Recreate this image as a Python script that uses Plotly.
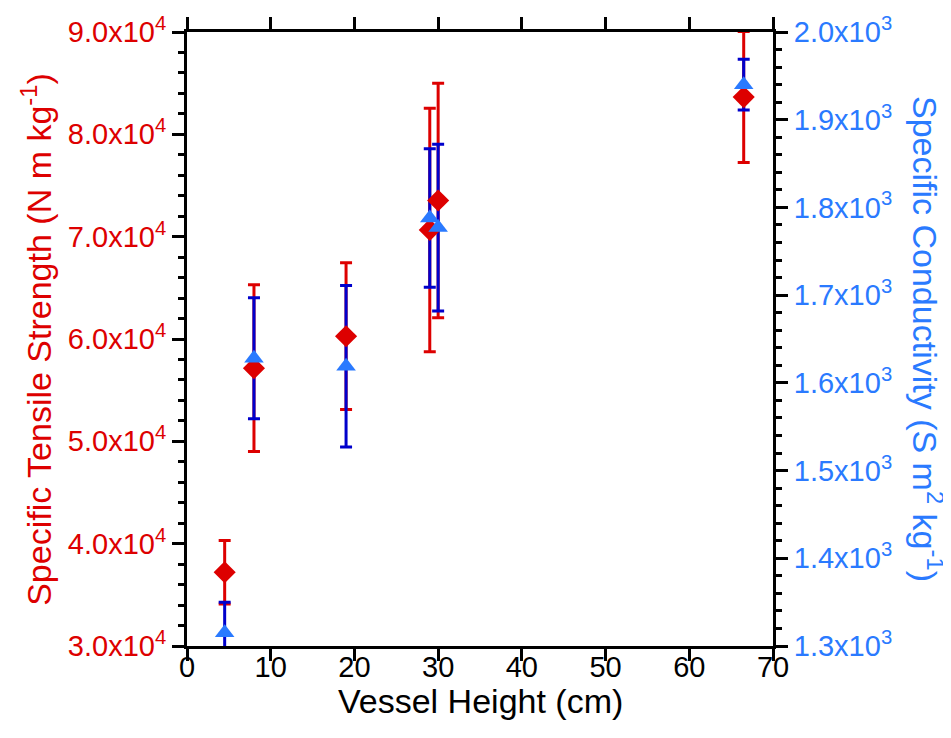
import plotly.graph_objects as go

# Data
vessel_height = [4.5, 8, 19, 29, 30, 66.5]
tensile_strength = [37200, 57150, 60270, 70660, 73530, 83640]
tensile_err = [3100, 8140, 7170, 11900, 11450, 6400]
conductivity = [1315, 1628, 1619, 1788, 1777, 1940]
conductivity_err = [35, 69, 92, 79, 95, 29]

x_ticks = [0, 10, 20, 30, 40, 50, 60, 70]
left_ticks = [30000, 40000, 50000, 60000, 70000, 80000, 90000]
left_ticktext = ["3.0x10<sup>4</sup>", "4.0x10<sup>4</sup>", "5.0x10<sup>4</sup>", "6.0x10<sup>4</sup>",
                 "7.0x10<sup>4</sup>", "8.0x10<sup>4</sup>", "9.0x10<sup>4</sup>"]
right_ticks = [1300, 1400, 1500, 1600, 1700, 1800, 1900, 2000]
right_ticktext = ["1.3x10<sup>3</sup>", "1.4x10<sup>3</sup>", "1.5x10<sup>3</sup>", "1.6x10<sup>3</sup>",
                  "1.7x10<sup>3</sup>", "1.8x10<sup>3</sup>", "1.9x10<sup>3</sup>", "2.0x10<sup>3</sup>"]
left_range = [30000, 90000]
right_range = [1300, 2000]

x_title = "Vessel Height (cm)"
left_title = "Specific Tensile Strength (N m kg<sup>-1</sup>)"
right_title = "Specific Conductivity (S m<sup>2</sup> kg<sup>-1</sup>)"

RED = "#DD0000"
DARKBLUE = "#0000CC"
LIGHTBLUE = "#2A7AFF"
FONT = "Liberation Sans, Arial, sans-serif"
TICKSIZE = 29
TITLESIZE = 34

fig = go.Figure()
# error bars first (drawn underneath), markers on later overlay layers
fig.add_trace(go.Scatter(
    x=vessel_height, y=tensile_strength, mode="markers",
    marker=dict(size=1, color="rgba(0,0,0,0)"),
    error_y=dict(type="data", array=tensile_err, visible=True, color=RED, thickness=3, width=6),
    cliponaxis=False, showlegend=False, hoverinfo="skip", yaxis="y"))
fig.add_trace(go.Scatter(
    x=vessel_height, y=conductivity, mode="markers",
    marker=dict(size=1, color="rgba(0,0,0,0)"),
    error_y=dict(type="data", array=conductivity_err, visible=True, color=DARKBLUE, thickness=3, width=6),
    cliponaxis=False, showlegend=False, hoverinfo="skip", yaxis="y2"))
fig.add_trace(go.Scatter(
    x=vessel_height, y=tensile_strength, mode="markers",
    marker=dict(symbol="diamond", size=17, color=RED),
    cliponaxis=False, showlegend=False, yaxis="y3"))
fig.add_trace(go.Scatter(
    x=vessel_height, y=conductivity, mode="markers",
    marker=dict(symbol="triangle-up", size=17, color=LIGHTBLUE),
    cliponaxis=False, showlegend=False, yaxis="y4"))

fig.update_layout(
    width=943, height=730,
    margin=dict(l=179, r=178, t=24, b=92, autoexpand=False),
    paper_bgcolor="white", plot_bgcolor="white",
    font=dict(family=FONT, size=TICKSIZE, color="black"),
    xaxis=dict(range=[0, 70], tickvals=x_ticks, showgrid=False, zeroline=False, automargin=False,
               showline=True, linecolor="black", linewidth=3, mirror="ticks",
               ticks="outside", ticklen=12, tickwidth=3, tickcolor="black",
               ticklabelstandoff=-19,
               tickfont=dict(size=TICKSIZE, color="black")),
    yaxis=dict(range=left_range, tickvals=left_ticks, ticktext=left_ticktext, automargin=False,
               showgrid=False, zeroline=False, showline=True, linecolor="black", linewidth=3,
               ticks="outside", ticklen=12, tickwidth=3, tickcolor="black",
               minor=dict(ticks="outside", ticklen=6, tickwidth=3, dtick=2000, tickcolor="black"),
               tickfont=dict(size=TICKSIZE, color=RED)),
    yaxis2=dict(range=right_range, tickvals=right_ticks, ticktext=right_ticktext, automargin=False,
                overlaying="y", side="right", anchor="x",
                showgrid=False, zeroline=False, showline=True, linecolor="black", linewidth=3,
                ticks="outside", ticklen=12, tickwidth=3, tickcolor="black",
                minor=dict(ticks="outside", ticklen=6, tickwidth=3, dtick=20, tickcolor="black"),
                tickfont=dict(size=TICKSIZE, color=LIGHTBLUE)),
    yaxis3=dict(range=left_range, overlaying="y", visible=False, automargin=False),
    yaxis4=dict(range=right_range, overlaying="y", visible=False, automargin=False),
    annotations=[
        dict(text=x_title, xref="paper", yref="paper", x=0.5, y=-0.09, xanchor="center", yanchor="middle",
             showarrow=False, font=dict(size=TITLESIZE, color="black")),
        dict(text=left_title, xref="paper", yref="paper", x=-0.258, y=0.5, xanchor="center", yanchor="middle",
             textangle=-90, showarrow=False, font=dict(size=TITLESIZE, color=RED)),
        dict(text=right_title, xref="paper", yref="paper", x=1.2645, y=0.5, xanchor="center", yanchor="middle",
             textangle=90, showarrow=False, font=dict(size=TITLESIZE, color=LIGHTBLUE)),
    ],
)

fig.write_html("out.html")
